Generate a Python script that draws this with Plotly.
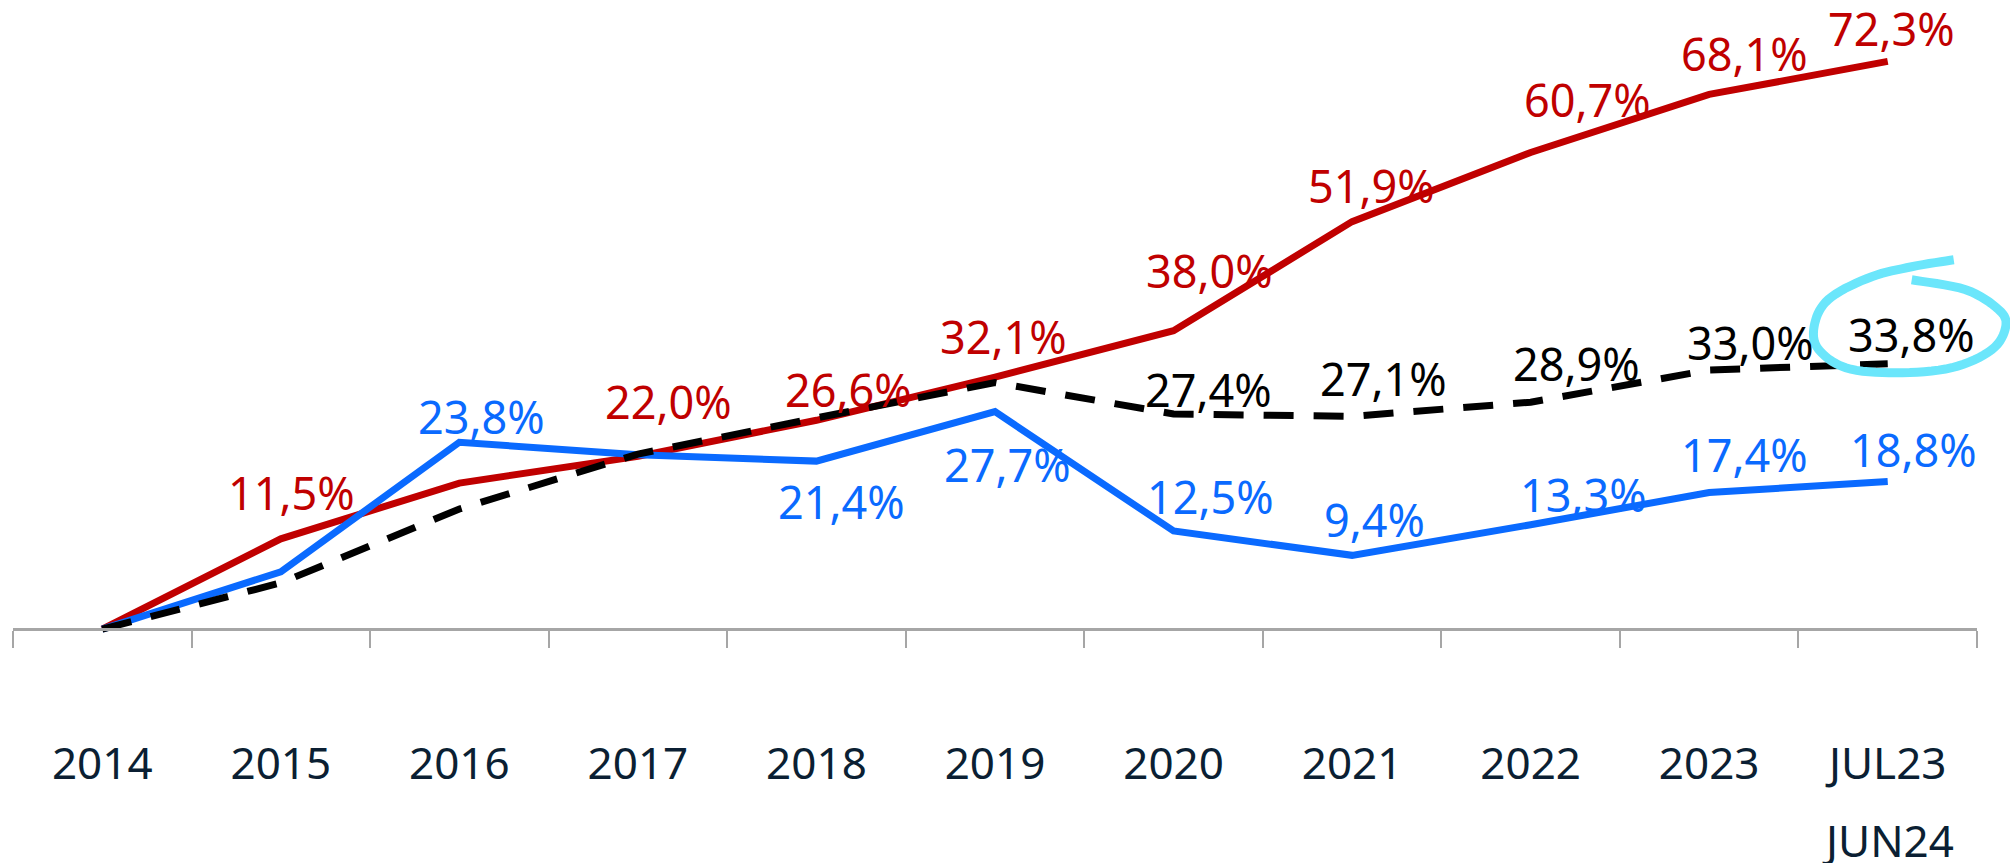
import plotly.graph_objects as go

# Periods on the x axis (the last one spans two lines)
periods = ["2014", "2015", "2016", "2017", "2018", "2019", "2020", "2021",
           "2022", "2023", "JUL23<br>JUN24"]

# Series values, in percent
red_values = [0.0, 11.5, 18.6, 22.0, 26.6, 32.1, 38.0, 51.9, 60.7, 68.1, 72.3]
blue_values = [0.0, 7.3, 23.8, 22.2, 21.4, 27.7, 12.5, 9.4, 13.3, 17.4, 18.8]
black_values = [0.0, 5.9, 15.3, 22.3, 26.9, 31.4, 27.4, 27.1, 28.9, 33.0, 33.8]

# Label placement per point: (dx, dy) in pixels from the point, None = no label
red_label_offsets = [None, (11, 46), None, (31, 55), (32, 31), (8, 41),
                     (36, 60), (19, 36), (57, 53), (35, 41), (4, 33)]
blue_label_offsets = [None, None, (22, 26), None, (25, -40), (12, -53),
                      (37, 34), (22, 36), (53, 30), (35, 38), (26, 32)]
black_label_offsets = [None, None, None, None, None, None,
                       (35, 25), (31, 38), (46, 39), (41, 28), (24, 29)]

RED = "#C00000"
BLUE = "#0A6AFF"
BLACK = "#000000"
NAVY = "#0B1F33"
AXIS_GREY = "#A6A6A6"
CIRCLE = "#6BE6FB"
FONT = "Noto Sans"

W, H = 2010, 863
M_L, M_R, M_T, M_B = 13, 33, 10, 226
Y_MIN, Y_MAX = -1.0, 78.85

tick_text = [p.split("<br>")[0] for p in periods]
idx = list(range(len(periods)))

fig = go.Figure()
series = [
    (red_values, RED, "solid"),
    (blue_values, BLUE, "solid"),
    (black_values, BLACK, "30px,20px"),
]
for values, colour, dash in series:
    fig.add_trace(go.Scatter(
        x=periods, y=values, mode="lines",
        line=dict(color=colour, width=7, dash=dash),
        hoverinfo="skip", showlegend=False,
    ))


def fmt(v):
    return f"{v:.1f}".replace(".", ",") + "%"


annotations = []
for values, offsets, colour in [
    (red_values, red_label_offsets, RED),
    (blue_values, blue_label_offsets, BLUE),
    (black_values, black_label_offsets, BLACK),
]:
    for i, v, off in zip(idx, values, offsets):
        if off is None:
            continue
        annotations.append(dict(
            x=i, y=v, xref="x", yref="y", text=fmt(v), showarrow=False,
            xanchor="center", yanchor="middle", xshift=off[0], yshift=off[1],
            font=dict(family=FONT, size=45, color=colour),
        ))

# second line of the last period label
for i, p in zip(idx, periods):
    if "<br>" in p:
        annotations.append(dict(
            x=i, y=0, xref="x", yref="y", text=p.split("<br>")[1],
            showarrow=False, xanchor="center", yanchor="middle", yshift=-211,
            font=dict(family=FONT, size=44, color=NAVY),
        ))

# hand-drawn highlight ring around the final black value
ring_pts = [(24, 84), (78, 74), (111, 54), (118, 37), (104, 14), (64, -4),
            (8, -9), (-42, -4), (-71, 17), (-72, 44), (-56, 67), (-16, 87),
            (24, 97), (66, 104)]


def catmull_rom(pts, steps=8):
    out = [pts[0]]
    ext = [pts[0]] + pts + [pts[-1]]
    for i in range(1, len(ext) - 2):
        p0, p1, p2, p3 = ext[i - 1], ext[i], ext[i + 1], ext[i + 2]
        for s in range(1, steps + 1):
            t = s / steps
            t2, t3 = t * t, t * t * t
            x = 0.5 * ((2 * p1[0]) + (-p0[0] + p2[0]) * t
                       + (2 * p0[0] - 5 * p1[0] + 4 * p2[0] - p3[0]) * t2
                       + (-p0[0] + 3 * p1[0] - 3 * p2[0] + p3[0]) * t3)
            y = 0.5 * ((2 * p1[1]) + (-p0[1] + p2[1]) * t
                       + (2 * p0[1] - 5 * p1[1] + 4 * p2[1] - p3[1]) * t2
                       + (-p0[1] + 3 * p1[1] - 3 * p2[1] + p3[1]) * t3)
            out.append((x, y))
    return out


smooth = catmull_rom(ring_pts)
ring_path = "M " + " L ".join(f"{x:.1f},{y:.1f}" for x, y in smooth)

n = len(periods)
anchor_x = (n - 1 + 0.5) / n
anchor_y = (black_values[-1] - Y_MIN) / (Y_MAX - Y_MIN)

shapes = [dict(
    type="path", xref="paper", yref="paper",
    xsizemode="pixel", ysizemode="pixel",
    xanchor=anchor_x, yanchor=anchor_y, path=ring_path,
    line=dict(color=CIRCLE, width=9), layer="above",
)]

fig.update_layout(
    width=W, height=H,
    margin=dict(l=M_L, r=M_R, t=M_T, b=M_B, pad=0),
    paper_bgcolor="white", plot_bgcolor="white",
    font=dict(family=FONT, color=NAVY),
    annotations=annotations, shapes=shapes,
    xaxis=dict(
        type="category", categoryorder="array", categoryarray=periods,
        range=[-0.5, n - 0.5], anchor="free",
        position=(0 - Y_MIN) / (Y_MAX - Y_MIN),
        tickmode="array", tickvals=periods, ticktext=tick_text,
        tickson="boundaries", ticks="outside", ticklen=17, tickwidth=1.5,
        tickcolor=AXIS_GREY, showline=True, linecolor=AXIS_GREY, linewidth=2.5,
        showgrid=False, zeroline=False, ticklabelstandoff=95,
        tickfont=dict(family=FONT, size=44, color=NAVY),
    ),
    yaxis=dict(
        range=[Y_MIN, Y_MAX], visible=False, showgrid=False, zeroline=False,
        domain=[0, 1],
    ),
)

fig.write_html("out.html")
